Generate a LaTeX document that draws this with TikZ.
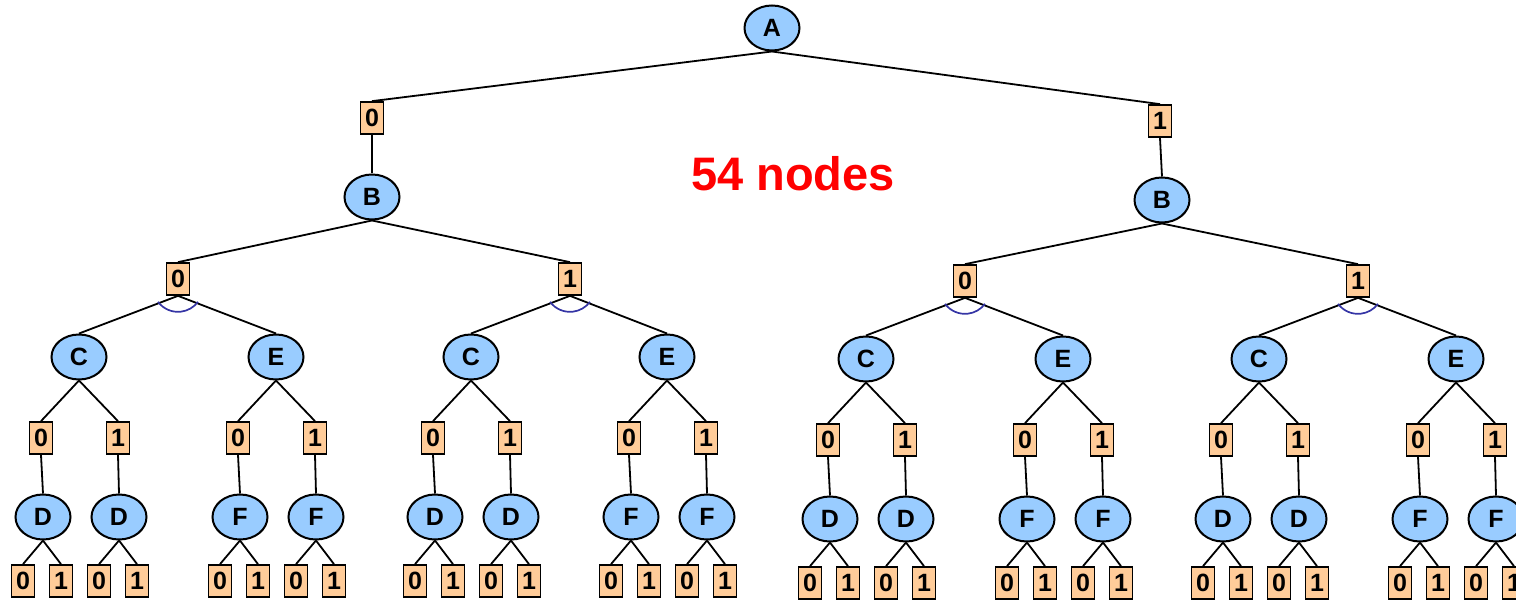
\documentclass[tikz,border=0pt]{standalone}
\usepackage{fontspec}
\setmainfont{Liberation Sans}
\usetikzlibrary{shapes.geometric}
\definecolor{nodeblue}{HTML}{99CCFF}
\definecolor{bitfill}{HTML}{FFCC99}
\definecolor{arcblue}{HTML}{3535A5}
\tikzset{
  var/.style={ellipse, draw=black, line width=1pt, fill=nodeblue,
    minimum width=27.5pt, minimum height=22.5pt, inner sep=0pt,
    font=\fontsize{12.5}{14}\selectfont\bfseries},
  bit/.style={rectangle, draw=black, line width=0.85pt, fill=bitfill,
    minimum width=11.5pt, minimum height=16pt, inner sep=0pt,
    font=\fontsize{12.5}{14}\selectfont\bfseries},
  link/.style={draw=black, line width=0.9pt},
  choice/.style={draw=arcblue, line width=0.85pt},
  title/.style={text=red, font=\fontsize{23.5}{28}\selectfont\bfseries}
}
\begin{document}
\begin{tikzpicture}[x=0.5pt,y=-0.5pt]
\useasboundingbox (0,0) rectangle (1516,604);

% root and first split
\node[var] (A) at (772,28) {A};
\node[bit] (h0) at (372,118) {0};
\node[bit] (h1) at (1160,121) {1};
\node[var] (B0) at (372,197) {B};
\node[var] (B1) at (1162,200) {B};
\draw[link] (A.south) -- (h0.north);
\draw[link] (A.south) -- (h1.north);
\draw[link] (h0.south) -- (B0.north);
\draw[link] (h1.south) -- (B1.north);

\node[title] (count) at (793,174) {54 nodes};

% second split
\foreach \k/\x/\y/\lab/\up in {1/178/279/0/B0, 2/570/279/1/B0, 3/965/281/0/B1, 4/1358/281/1/B1}{
  \node[bit] (m\k) at (\x,\y) {\lab};
  \draw[link] (\up.south) -- (m\k.north);
}

% C / E subtrees
\foreach \k/\cx/\ex/\y in {1/79/276/357, 2/471/667/357, 3/866/1063/359, 4/1259/1456/359}{
  \node[var] (g\k c) at (\cx,\y) {C};
  \node[var] (g\k e) at (\ex,\y) {E};
  \draw[link] (m\k.south) -- (g\k c.north);
  \draw[link] (m\k.south) -- (g\k e.north);
  \draw[choice] ([yshift=4.5pt]m\k.south) ++(217:12.5pt)
    arc[start angle=217, end angle=323, radius=12.5pt];
  \foreach \s/\x/\sub in {c/\cx/D, e/\ex/F}{
    \node[bit] (g\k\s0) at ({\x-38},{\y+81}) {0};
    \node[bit] (g\k\s1) at ({\x+39},{\y+81}) {1};
    \draw[link] (g\k\s.south) -- (g\k\s0.north);
    \draw[link] (g\k\s.south) -- (g\k\s1.north);
    \foreach \b/\vx in {0/{\x-36}, 1/{\x+40}}{
      \node[var] (g\k\s\b v) at ({\vx},{\y+160}) {\sub};
      \draw[link] (g\k\s\b.south) -- (g\k\s\b v.north);
      \node[bit] (g\k\s\b v0) at ({\vx-20},{\y+224}) {0};
      \node[bit] (g\k\s\b v1) at ({\vx+18},{\y+224}) {1};
      \draw[link] (g\k\s\b v.south) -- (g\k\s\b v0.north);
      \draw[link] (g\k\s\b v.south) -- (g\k\s\b v1.north);
    }
  }
}
\end{tikzpicture}
\end{document}
